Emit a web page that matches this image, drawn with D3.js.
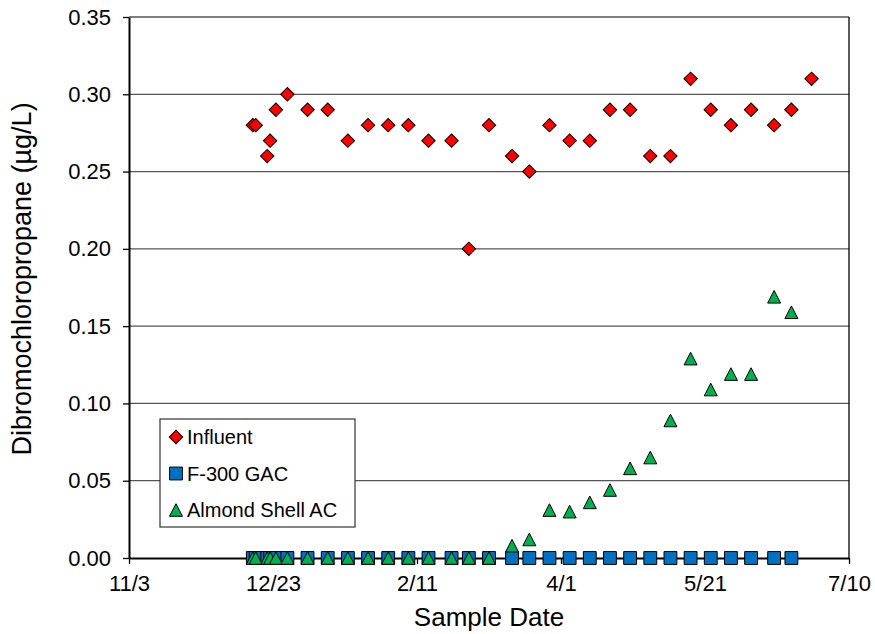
<!DOCTYPE html>
<html>
<head>
<meta charset="utf-8">
<script src="https://cdn.jsdelivr.net/npm/d3@7"></script>
<style>
  body { margin: 0; background: #fff; }
  text { font-family: "Liberation Sans", Arial, sans-serif; fill: #000; }
</style>
</head>
<body>
<div id="chart"></div>
<script>
// sample dates (2007-2008 season)
const sampleDates = ["2007-12-16","2007-12-17","2007-12-21","2007-12-22","2007-12-24","2007-12-28",
  "2008-01-04","2008-01-11","2008-01-18","2008-01-25","2008-02-01","2008-02-08","2008-02-15",
  "2008-02-23","2008-02-29","2008-03-07","2008-03-15","2008-03-21","2008-03-28","2008-04-04",
  "2008-04-11","2008-04-18","2008-04-25","2008-05-02","2008-05-09","2008-05-16","2008-05-23",
  "2008-05-30","2008-06-06","2008-06-14","2008-06-20","2008-06-27"];

const influent = [0.28,0.28,0.26,0.27,0.29,0.30,0.29,0.29,0.27,0.28,0.28,0.28,0.27,0.27,0.20,0.28,
  0.26,0.25,0.28,0.27,0.27,0.29,0.29,0.26,0.26,0.31,0.29,0.28,0.29,0.28,0.29,0.31];
// F-300 GAC: non-detect through Jun 20
const gac = [0,0,0,0,0,0,0,0,0,0,0,0,0,0,0,0,0,0,0,0,0,0,0,0,0,0,0,0,0,0,0];
const almond = [0,0,0,0,0,0,0,0,0,0,0,0,0,0,0,0,0.008,0.012,0.031,0.030,0.036,0.044,0.058,0.065,
  0.089,0.129,0.109,0.119,0.119,0.169,0.159];

const xTicks = ["2007-11-03","2007-12-23","2008-02-11","2008-04-01","2008-05-21","2008-07-10"];
const yTicks = [0, 0.05, 0.10, 0.15, 0.20, 0.25, 0.30, 0.35];

const width = 875, height = 634,
      margin = ({top: 17, right: 26, bottom: 76, left: 129});

const parse = d3.timeParse("%Y-%m-%d");
const fmt = d3.timeFormat("%-m/%-d");

let svg = d3.select("#chart").append("svg")
    .attr("width", width).attr("height", height);

let x = d3.scaleTime()
    .domain([parse(xTicks[0]), parse(xTicks[xTicks.length - 1])])
    .range([margin.left, width - margin.right]);

let y = d3.scaleLinear()
    .domain([0, 0.35])
    .range([height - margin.bottom, margin.top]);

// gridlines
svg.append("g")
    .selectAll("line")
    .data(yTicks.slice(1))
    .join("line")
    .attr("x1", margin.left).attr("x2", width - margin.right)
    .attr("y1", d => y(d)).attr("y2", d => y(d))
    .attr("stroke", "#555").attr("stroke-width", 1.3);

// right border
svg.append("line")
    .attr("x1", width - margin.right).attr("x2", width - margin.right)
    .attr("y1", margin.top).attr("y2", height - margin.bottom)
    .attr("stroke", "#000").attr("stroke-width", 1.3);

// axes
let xAxis = svg.append("g")
    .attr("transform", `translate(0,${height - margin.bottom})`)
    .call(d3.axisBottom(x).tickValues(xTicks.map(parse)).tickFormat(fmt).tickSize(6).tickSizeOuter(0));
let yAxis = svg.append("g")
    .attr("transform", `translate(${margin.left},0)`)
    .call(d3.axisLeft(y).tickValues(yTicks).tickFormat(d3.format(".2f")).tickSize(6).tickSizeOuter(0));

[xAxis, yAxis].forEach(g => {
    g.select(".domain").attr("stroke", "#000").attr("stroke-width", 2);
    g.selectAll(".tick line").attr("stroke", "#000").attr("stroke-width", 1.3);
    g.selectAll("text").attr("font-size", 22).attr("font-family", "Liberation Sans, Arial, sans-serif");
});
xAxis.selectAll("text").attr("y", 17).attr("dy", "0.72em");
yAxis.selectAll("text").attr("x", -18);

// axis titles
svg.append("text")
    .attr("x", (margin.left + width - margin.right) / 2)
    .attr("y", 626)
    .attr("text-anchor", "middle")
    .attr("font-size", 26)
    .text("Sample Date");

svg.append("text")
    .attr("transform", `translate(31,279) rotate(-90)`)
    .attr("text-anchor", "middle")
    .attr("font-size", 27)
    .text("Dibromochloropropane (µg/L)");

// markers
const tri = {
    draw(ctx, size) {
        const w = Math.sqrt(size * 2 / 0.97), h = w * 0.97;
        ctx.moveTo(0, -h / 2);
        ctx.lineTo(w / 2, h / 2);
        ctx.lineTo(-w / 2, h / 2);
        ctx.closePath();
    }
};
const diamond = d3.symbol().type(d3.symbolSquare).size(90);
const square = d3.symbol().type(d3.symbolSquare).size(165);
const triangle = d3.symbol().type(tri).size(82);

const series = [
    {name: "Influent", values: influent, fill: "#ff0000", sym: diamond, rot: 45},
    {name: "F-300 GAC", values: gac, fill: "#0070c0", sym: square, rot: 0},
    {name: "Almond Shell AC", values: almond, fill: "#00b050", sym: triangle, rot: 0}
];

series.forEach(s => {
    svg.append("g")
        .selectAll("path")
        .data(s.values.map((v, i) => ({date: parse(sampleDates[i]), v: v})))
        .join("path")
        .attr("d", s.sym)
        .attr("transform", d => `translate(${x(d.date)},${y(d.v)}) rotate(${s.rot})`)
        .attr("fill", s.fill)
        .attr("stroke", "#000")
        .attr("stroke-width", 1);
});

// legend
let legend = svg.append("g").attr("transform", "translate(160,419)");
legend.append("rect")
    .attr("width", 195).attr("height", 108)
    .attr("fill", "#fff").attr("stroke", "#333").attr("stroke-width", 1.2);
series.forEach((s, i) => {
    let row = legend.append("g").attr("transform", `translate(16,${18 + i * 36.5})`);
    row.append("path")
        .attr("d", s.sym)
        .attr("transform", `rotate(${s.rot})`)
        .attr("fill", s.fill).attr("stroke", "#000").attr("stroke-width", 1);
    row.append("text")
        .attr("x", 11).attr("dy", "0.36em")
        .attr("font-size", 20)
        .text(s.name);
});
</script>
</body>
</html>
